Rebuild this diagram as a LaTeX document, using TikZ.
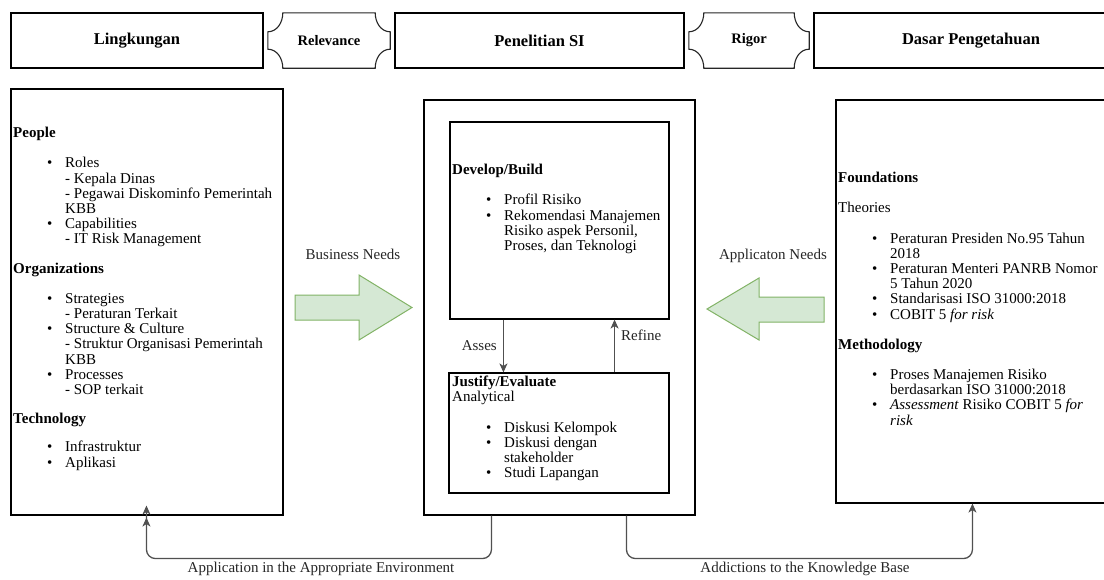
\documentclass[tikz,border=0pt]{standalone}
\usepackage{fontspec}
\setmainfont{Liberation Serif}
\usepackage{tikz}
\usetikzlibrary{arrows.meta,positioning}
\definecolor{dsrgreen}{RGB}{213,232,212}
\definecolor{dsrgreenline}{RGB}{130,179,102}
\definecolor{dsrgray}{RGB}{80,80,80}
\tikzstyle{box} = [rectangle, draw=black, line width=1.1pt, inner sep=0pt]
\tikzstyle{header} = [box, minimum height=55pt, font=\fontsize{16.5}{18}\selectfont\bfseries]
\tikzstyle{tag} = [rectangle, inner sep=0pt, minimum height=55pt, font=\fontsize{14.5}{16}\selectfont\bfseries]
\tikzstyle{plaqueline} = [draw=black!85, line width=1.1pt]
\tikzstyle{listtext} = [align=left, inner sep=0pt, anchor=north west, font=\fontsize{15}{15.2}\selectfont]
\tikzstyle{lbl} = [inner sep=0pt, font=\fontsize{15}{15.2}\selectfont, text=black!85]
\tikzstyle{flow} = [dsrgray, line width=1.3pt, -{Stealth[length=9pt,width=8pt,inset=2.5pt]}]
\tikzstyle{feedback} = [dsrgray, line width=1.3pt, rounded corners=9pt]
\tikzstyle{bigarrow} = [draw=dsrgreenline, fill=dsrgreen, line width=1pt, line join=miter]
\newcommand{\itembul}{\hspace*{34pt}\makebox[18pt][l]{\textbullet}}
\newcommand{\itemind}{\hspace*{52pt}}
% plaque outline round a tag node
\newcommand{\plaque}[1]{%
  \draw[plaqueline] ([xshift=15pt]#1.north west) -- ([xshift=-15pt]#1.north east)
    to[out=-90,in=180] ([yshift=-19pt]#1.north east) -- ([yshift=19pt]#1.south east)
    to[out=180,in=90] ([xshift=-15pt]#1.south east) -- ([xshift=15pt]#1.south west)
    to[out=90,in=0] ([yshift=19pt]#1.south west) -- ([yshift=-19pt]#1.north west)
    to[out=0,in=-90] ([xshift=15pt]#1.north west) -- cycle;}

\begin{document}
\begin{tikzpicture}[x=1pt, y=1pt]
\path[use as bounding box, fill=white] (0,0) rectangle (1104,-579);

% top row
\node[header, minimum width=252pt] (lingk) at (137,-40.5) {Lingkungan};
\node[tag, minimum width=122pt] (rel) at (329,-40.5) {Relevance};
\node[header, minimum width=289pt] (penel) at (539.5,-40.5) {Penelitian SI};
\node[tag, minimum width=120pt] (rigor) at (749,-40.5) {Rigor};
\node[header, minimum width=314pt] (dasar) at (971,-40.5) {Dasar Pengetahuan};
\plaque{rel}
\plaque{rigor}

% main boxes
\node[box, minimum width=272pt, minimum height=426pt] (lbox) at (147,-302) {};
\node[box, minimum width=271pt, minimum height=415pt] (mid) at (559.5,-307.5) {};
\node[box, minimum width=219pt, minimum height=197pt] (dev) at (559.5,-220.5) {};
\node[box, minimum width=220pt, minimum height=120pt] (just) at (559,-433) {};
\node[box, minimum width=294pt, minimum height=403pt] (rbox) at (983,-301.5) {};

% box texts
\node[listtext] (ltext) at (13,-127) {\textbf{People}\\[15pt]
\itembul Roles\\
\itemind - Kepala Dinas\\
\itemind - Pegawai Diskominfo Pemerintah\\
\itemind KBB\\
\itembul Capabilities\\
\itemind - IT Risk Management\\[14pt]
\textbf{Organizations}\\[15pt]
\itembul Strategies\\
\itemind - Peraturan Terkait\\
\itembul Structure \& Culture\\
\itemind - Struktur Organisasi Pemerintah\\
\itemind KBB\\
\itembul Processes\\
\itemind - SOP terkait\\[14pt]
\textbf{Technology}\\[13pt]
\itembul Infrastruktur\\
\itembul Aplikasi};

\node[listtext] (devtext) at (452,-164) {\textbf{Develop/Build}\\[15pt]
\itembul Profil Risiko\\
\itembul Rekomendasi Manajemen\\
\itemind Risiko aspek Personil,\\
\itemind Proses, dan Teknologi};

\node[listtext] (justtext) at (452,-376) {\textbf{Justify/Evaluate}\\
Analytical\\[15pt]
\itembul Diskusi Kelompok\\
\itembul Diskusi dengan\\
\itemind stakeholder\\
\itembul Studi Lapangan};

\node[listtext] (rtext) at (838,-172) {\textbf{Foundations}\\[15pt]
Theories\\[15pt]
\itembul Peraturan Presiden No.95 Tahun\\
\itemind 2018\\
\itembul Peraturan Menteri PANRB Nomor\\
\itemind 5 Tahun 2020\\
\itembul Standarisasi ISO 31000:2018\\
\itembul COBIT 5 \textit{for risk}\\[15pt]
\textbf{Methodology}\\[15pt]
\itembul Proses Manajemen Risiko\\
\itemind berdasarkan ISO 31000:2018\\
\itembul \textit{Assessment} Risiko COBIT 5 \textit{for}\\
\itemind \textit{risk}};

% needs arrows (block arrows between the boxes)
\draw[bigarrow] (295,-295) -- (359,-295) -- (359,-275) -- (412,-307.5)
  -- (359,-340) -- (359,-320) -- (295,-320) -- cycle;
\draw[bigarrow] (824,-297) -- (759,-297) -- (759,-278) -- (707,-309)
  -- (759,-340) -- (759,-322) -- (824,-322) -- cycle;
\node[lbl] (buslbl) at (353,-254) {Business Needs};
\node[lbl] (applbl) at (773,-256) {Applicaton Needs};

% assess / refine
\draw[flow] ([xshift=54pt]dev.south west) -- ([xshift=54pt]dev.south west |- just.north)
  node[lbl, midway, left=6pt] (asseslbl) {Asses};
\draw[flow] ([xshift=-55pt]just.north east) -- ([xshift=-55pt]just.north east |- dev.south)
  node[lbl, midway, right=6pt, yshift=11pt] (refinelbl) {Refine};

% feedback to environment and knowledge base
\draw[feedback, -{Stealth[length=9pt,width=8pt,inset=2.5pt,sep=3pt]Stealth[length=9pt,width=8pt,inset=2.5pt]}]
  ([xshift=68pt]mid.south west) -- ([xshift=68pt,yshift=-43pt]mid.south west)
  -| ([xshift=136pt,yshift=10pt]lbox.south west);
\draw[feedback, -{Stealth[length=9pt,width=8pt,inset=2.5pt]}]
  ([xshift=203pt]mid.south west) -- ([xshift=203pt,yshift=-43pt]mid.south west)
  -| ([xshift=137pt]rbox.south west);
\node[lbl] (envlbl) at (321,-569) {Application in the Appropriate Environment};
\node[lbl] (kblbl) at (805,-569) {Addictions to the Knowledge Base};
\end{tikzpicture}
\end{document}
